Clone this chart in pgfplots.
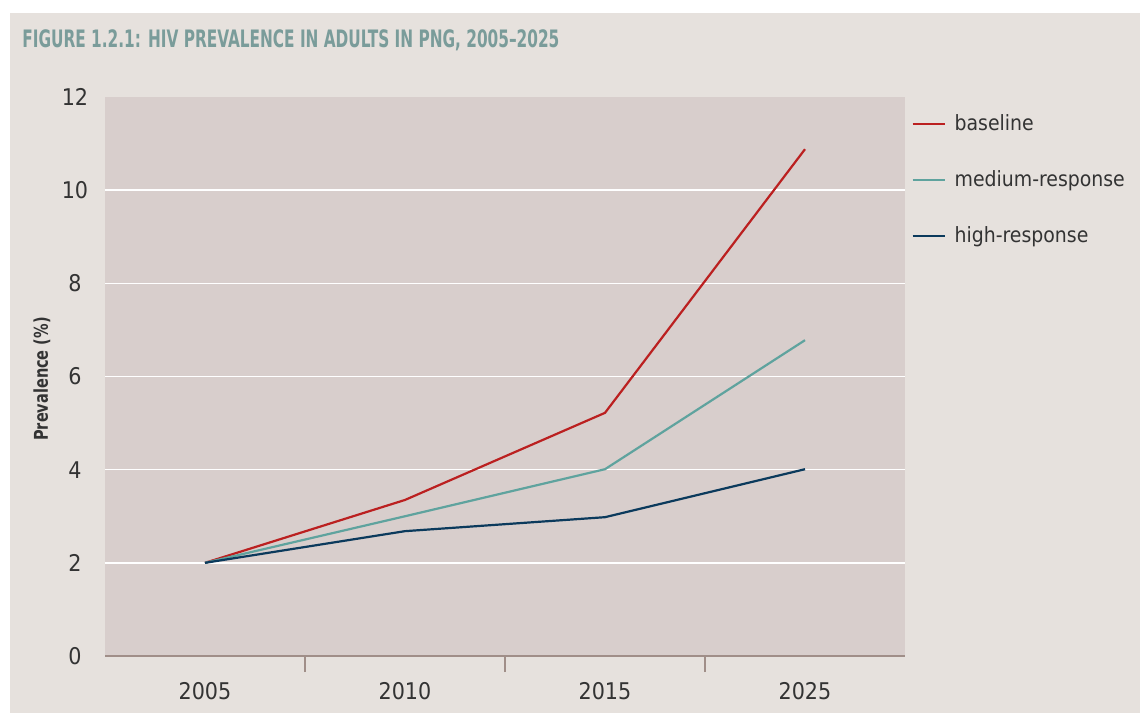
\documentclass[border=0pt]{standalone}
\usepackage{pgfplots}
\pgfplotsset{compat=1.18}
\usepackage{fontspec}
\setmainfont{DejaVu Sans Condensed}
\definecolor{bgout}{HTML}{E6E1DD}
\definecolor{bgplot}{HTML}{D8CECC}
\definecolor{axcol}{HTML}{A08E88}
\definecolor{titlecol}{HTML}{7A9C9A}
\definecolor{txt}{HTML}{333333}
\definecolor{cbase}{HTML}{BB2020}
\definecolor{cmed}{HTML}{5FA39E}
\definecolor{chigh}{HTML}{0B3A5C}

\begin{document}
\begin{tikzpicture}
% canvas: 1140 x 713 px, 1 px = 0.5pt
\fill[white] (0pt,0pt) rectangle (570pt,356.5pt);
\fill[bgout] (5pt,0pt) rectangle (570pt,350pt);
\node[anchor=west, text=titlecol, font=\bfseries\fontsize{12}{14}\selectfont, inner sep=0pt]
  at (11pt,336.5pt) {\scalebox{0.71}[1]{FIGURE 1.2.1: HIV PREVALENCE IN ADULTS IN PNG, 2005–2025}};
\begin{axis}[
  at={(52.5pt,28.5pt)}, anchor=south west,
  scale only axis,
  width=400pt, height=279.5pt,
  xmin=-0.5, xmax=3.5,
  ymin=0, ymax=12,
  xtick={0,1,2,3},
  xticklabels={2005,2010,2015,2025},
  minor xtick={0.5,1.5,2.5},
  ytick={2,4,6,8,10},
  yticklabels={},
  axis background/.style={fill=bgplot},
  axis x line*=bottom,
  axis y line*=left,
  y axis line style={draw=none},
  x axis line style={draw=axcol, line width=1pt},
  major x tick style={draw=none},
  major y tick style={draw=none},
  minor x tick style={draw=axcol, line width=0.8pt},
  minor tick length=8pt,
  xtick align=outside,
  ymajorgrids=true,
  grid style={white, line width=0.8pt},
  /pgf/number format/assume math mode=true,
  tick label style={font=\fontsize{11.5}{13}\selectfont, text=txt},
  xticklabel style={yshift=-5.5pt},
  clip=false,
  legend style={at={(1,1)}, anchor=north west, xshift=0pt, yshift=-4.5pt,
    draw=none, fill=none, font=\fontsize{10.5}{12}\selectfont, text=txt,
    row sep=14.5pt, cells={anchor=west}, nodes={inner xsep=4.5pt}},
  legend image code/.code={\draw[#1, line width=1.1pt] (0pt,0pt) -- (16pt,0pt);},
]
\addplot[cbase, line width=1.1pt] coordinates {(0,2.0) (1,3.35) (2,5.22) (3,10.88)};
\addlegendentry{baseline}
\addplot[cmed, line width=1.1pt] coordinates {(0,2.0) (1,3.0) (2,4.01) (3,6.78)};
\addlegendentry{medium-response}
\addplot[chigh, line width=1.1pt] coordinates {(0,2.0) (1,2.68) (2,2.98) (3,4.01)};
\addlegendentry{high-response}
% y tick labels, placed through the axis' own coordinates
\foreach \v in {0,2,4,6,8,10,12} {
  \edef\tmp{\noexpand\node[anchor=center, text=txt, font=\noexpand\fontsize{11.5}{13}\noexpand\selectfont] at (axis cs:-0.5,\v) [xshift=-15pt] {\v};}
  \tmp
}
\end{axis}
\node[rotate=90, text=txt, font=\bfseries\fontsize{9.5}{11}\selectfont] at (21pt,167pt) {\scalebox{0.85}[1]{Prevalence (\%)}};
\end{tikzpicture}
\end{document}
